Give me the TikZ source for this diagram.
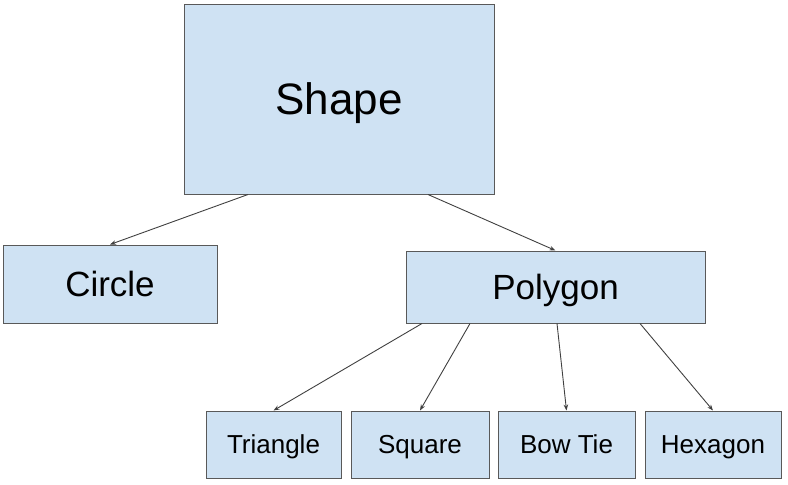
\documentclass[tikz,border=0pt]{standalone}
\usepackage{fontspec}
\setmainfont{Liberation Sans}
\usetikzlibrary{arrows.meta}
\definecolor{boxblue}{HTML}{CFE2F3}
\definecolor{boxline}{HTML}{595959}
\definecolor{linkgray}{HTML}{404040}
\begin{document}
\begin{tikzpicture}[x=1pt,y=-1pt]
    % Styles
    \tikzstyle{box} = [rectangle, inner sep=0pt, text centered, text depth=0pt, draw=boxline, line width=1pt, fill=boxblue]
    \tikzstyle{big} = [box, text height=31.5pt, font=\fontsize{44}{50}\selectfont]
    \tikzstyle{mid} = [box, text height=25pt, font=\fontsize{35}{40}\selectfont]
    \tikzstyle{leaf} = [box, minimum height=67pt, text height=18.6pt, font=\fontsize{26}{30}\selectfont]
    \tikzstyle{arrow} = [draw=linkgray, line width=0.9pt, -{Stealth[length=6pt,width=4.5pt]}]

    \useasboundingbox (0,0) rectangle (788,485);

    % Boxes
    \node (shape) [big, minimum width=310pt, minimum height=190pt] at (339,99) {Shape};
    \node (circle) [mid, minimum width=214pt, minimum height=78pt] at (110,284) {Circle};
    \node (polygon) [mid, minimum width=299pt, minimum height=72pt] at (555.5,287) {Polygon};

    \node (triangle) [leaf, minimum width=135pt] at (273.5,444.5) {Triangle};
    \node (square) [leaf, minimum width=138pt] at (420,444.5) {Square};
    \node (bowtie) [leaf, minimum width=137pt] at (566.5,444.5) {Bow Tie};
    \node (hexagon) [leaf, minimum width=136pt] at (713,444.5) {Hexagon};

    % Arrows
    \draw [arrow] ([xshift=-91pt]shape.south) -- (circle.north);
    \draw [arrow] ([xshift=89pt]shape.south) -- (polygon.north);
    \draw [arrow] ([xshift=-133.5pt]polygon.south) -- (triangle.north);
    \draw [arrow] ([xshift=-85.5pt]polygon.south) -- (square.north);
    \draw [arrow] ([xshift=1.5pt]polygon.south) -- (bowtie.north);
    \draw [arrow] ([xshift=84.5pt]polygon.south) -- (hexagon.north);
\end{tikzpicture}
\end{document}
